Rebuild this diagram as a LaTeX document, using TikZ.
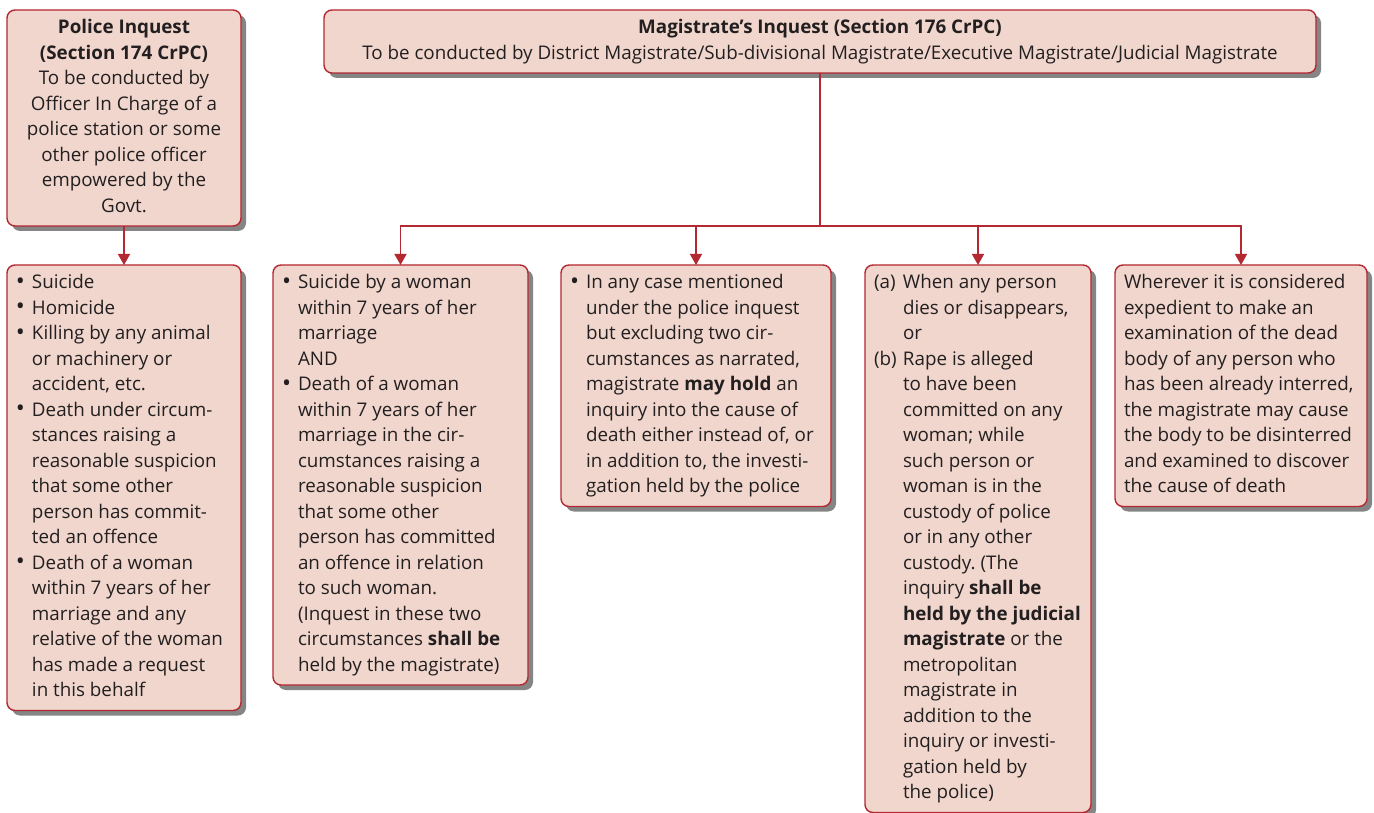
\documentclass[tikz,border=0pt]{standalone}
\usepackage{fontspec}
\setmainfont{Open Sans}
\usetikzlibrary{arrows.meta,shadows}
\definecolor{boxfill}{HTML}{F0D6CC}
\definecolor{boxline}{HTML}{B42832}
\definecolor{inktext}{HTML}{231F20}
\newcommand{\bul}{\makebox[16pt][l]{\raisebox{-0.5pt}{\fontsize{24}{25.5}\selectfont\textbullet}}}
\newcommand{\hang}{\hspace*{16pt}}
\newcommand{\lab}[1]{\makebox[29pt][l]{#1}}
\newcommand{\labhang}{\hspace*{29pt}}
\newcommand{\lrows}[2]{\makebox[#1][l]{\begin{tabular}{@{}l@{}}#2\end{tabular}}}
\newcommand{\crows}[2]{\makebox[#1][c]{\begin{tabular}{@{}c@{}}#2\end{tabular}}}
\tikzset{
  box/.style={draw=boxline, fill=boxfill, line width=1.4pt, rounded corners=8pt,
    anchor=north west, inner xsep=9pt, inner ysep=6pt, outer sep=0pt,
    text=inktext, font=\fontsize{18.8}{25.5}\selectfont\frenchspacing,
    drop shadow={shadow xshift=5pt, shadow yshift=-5pt, fill=black!48, opacity=1}},
  link/.style={draw=boxline, line width=1.4pt},
  arr/.style={link, -{Triangle[width=12pt,length=11pt]}}
}
\begin{document}
\begin{tikzpicture}[x=1pt, y=-1pt]
  \useasboundingbox (0,0) rectangle (1374,813);
  \node[box] (police) at (7,10)
    {\crows{216pt}{\textbf{Police Inquest}\\\textbf{(Section 174 CrPC)}\\To be conducted by\\Officer In Charge of a\\
     police station or some\\other police officer\\empowered by the\\Govt.}};
  \node[box] (mag) at (324,10)
    {\crows{974pt}{\textbf{Magistrate’s Inquest (Section 176 CrPC)}\\
     To be conducted by District Magistrate/Sub-divisional Magistrate/Executive Magistrate/Judicial Magistrate}};
  \node[box] (list) at (7,265)
    {\lrows{216pt}{\bul Suicide\\\bul Homicide\\\bul Killing by any animal\\\hang or machinery or\\\hang accident, etc.\\
     \bul Death under circum-\\\hang stances raising a\\\hang reasonable suspicion\\\hang that some other\\
     \hang person has commit-\\\hang ted an offence\\\bul Death of a woman\\\hang within 7 years of her\\
     \hang marriage and any\\\hang relative of the woman\\\hang has made a request\\\hang in this behalf}};
  \node[box] (dowry) at (273,265)
    {\lrows{237pt}{\bul Suicide by a woman\\\hang within 7 years of her\\\hang marriage\\\hang AND\\
     \bul Death of a woman\\\hang within 7 years of her\\\hang marriage in the cir-\\\hang cumstances raising a\\
     \hang reasonable suspicion\\\hang that some other\\\hang person has committed\\\hang an offence in relation\\
     \hang to such woman.\\\hang (Inquest in these two\\\hang circumstances \textbf{shall be}\\
     \hang held by the magistrate)}};
  \node[box] (other) at (561,265)
    {\lrows{252pt}{\bul In any case mentioned\\\hang under the police inquest\\\hang but excluding two cir-\\
     \hang cumstances as narrated,\\\hang magistrate \textbf{may hold} an\\\hang inquiry into the cause of\\
     \hang death either instead of, or\\\hang in addition to, the investi-\\\hang gation held by the police}};
  \node[box] (custody) at (865,265)
    {\lrows{208pt}{\lab{(a)}When any person\\\labhang dies or disappears,\\\labhang or\\\lab{(b)}Rape is alleged\\
     \labhang to have been\\\labhang committed on any\\\labhang woman; while\\\labhang such person or\\
     \labhang woman is in the\\\labhang custody of police\\\labhang or in any other\\\labhang custody. (The\\
     \labhang inquiry \textbf{shall be}\\\labhang \textbf{held by the judicial}\\\labhang \textbf{magistrate} or the\\
     \labhang metropolitan\\\labhang magistrate in\\\labhang addition to the\\\labhang inquiry or investi-\\
     \labhang gation held by\\\labhang the police)}};
  \node[box] (exhume) at (1115,265)
    {\lrows{234pt}{Wherever it is considered\\expedient to make an\\examination of the dead\\body of any person who\\
     has been already interred,\\the magistrate may cause\\the body to be disinterred\\
     and examined to discover\\the cause of death}};
  \coordinate (split) at (820,226);
  \draw[arr] (police) -- (list);
  \draw[link] (mag) -- (split);
  \foreach \b in {dowry,other,custody,exhume}
    \draw[arr] (split) -| (\b);
\end{tikzpicture}
\end{document}
